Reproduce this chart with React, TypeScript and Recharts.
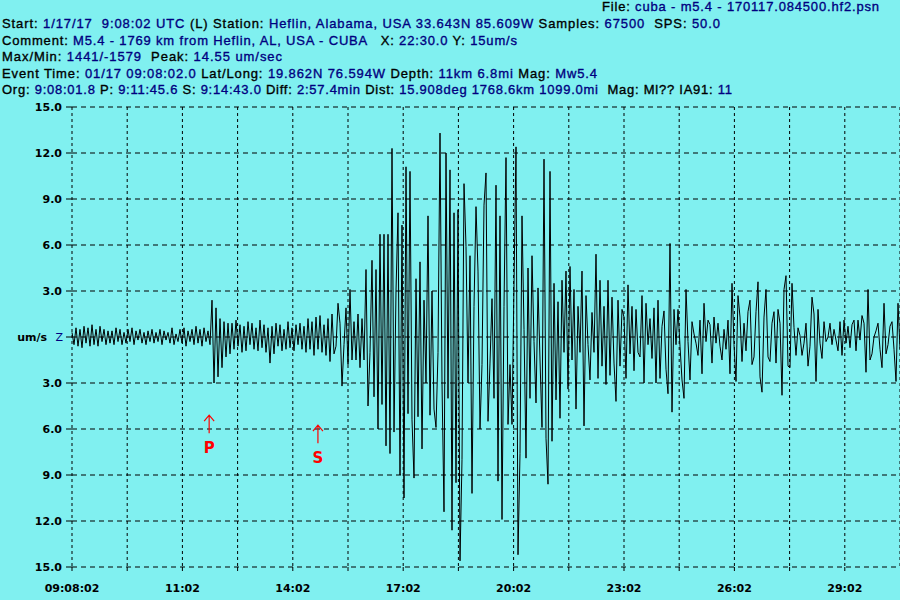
import React from 'react';
import { LineChart, Line, XAxis, YAxis, CartesianGrid, ReferenceDot } from 'recharts';

const BG = '#80F0F0';
const NAVY = '#000080';
const RED = '#FF0000';

// Record length: 22.5 minutes starting 09:08:02; one sample every 22.5/414 minutes
const RECORD_MIN = 22.5;
const SAMPLE_COUNT = 415;
const SAMPLE_STEP_MIN = RECORD_MIN / (SAMPLE_COUNT - 1);

// Vertical velocity (um/s)
const WAVE_PRE_P = [
  0.3, -0.5, 0.6, -0.6, 0.5, -0.7, 0.7, -0.4, 0.6, -0.6, 0.8, -0.5, 0.5, -0.6, 0.7, -0.3, 0.5, -0.5, 0.4, -0.4,
  0.4, -0.5, 0.6, -0.3, 0.5, -0.5, 0.3, -0.4, 0.5, -0.3, 0.6, -0.5, 0.4, -0.2, 0.5, -0.4, 0.3, -0.5, 0.4, -0.3,
  0.5, -0.4, 0.3, -0.3, 0.5, -0.5, 0.4, -0.2, 0.3, -0.4, 0.6, -0.5, 0.2, -0.3, 0.5, -0.4, 0.6, -0.6, 0.4, -0.3,
  0.5, -0.5, 0.7, -0.4, 0.5, -0.6, 0.6, -0.3, 0.4, -0.5,
];
const WAVE_P_CODA = [
  2.4, -3.0, 1.9, -2.6, 1.2, -2.0, 1.0, -1.3, 0.9, -1.1,
  0.9, -0.8, 1.1, -0.6, 0.8, -1.0, 0.7, -0.9, 1.0, -0.5, 0.9, -0.8, 0.6, -0.9, 1.1, -0.7, 0.8, -1.0, 0.6, -1.7,
  0.7, -1.1, 0.9, -0.6, 0.8, -0.9, 0.5, -0.8, 1.0, -0.7, 0.6, -0.9, 0.8, -0.5, 0.9, -0.8, 0.7, -1.0, 1.2, -0.8,
  1.0, -1.2, 1.3, -0.8, 1.4, -1.0, 0.8, -1.2, 1.2, -1.6, 1.5, -1.1, -0.6, 2.2, 0.9, -3.2, -0.5, 1.9, -1.8, 3.1,
];
const WAVE_SURFACE = [
  -1.5, 1.0, -1.5, 1.5, -2.0, 1.2, -1.5, 4.4, -4.5, -1.0, 5.0, -3.9, 4.4, -6.0, 6.7, -4.4, 6.7, -7.1, 6.7, -7.6,
  12.3, -6.2, 3.0, 8.1, -9.0, 7.3, -10.5, 11.1, -5.0, 10.8, -5.4, -9.2, 3.8, -5.2, 4.9, -7.3, 2.4, -3.0, 7.9, -5.1,
  3.0, -4.7, -5.9, -1.0, 13.3, -3.0, -11.4, 12.0, -4.0, 10.9, -12.6, 8.1, -9.5, 8.3, -14.6, -8.0, 10.0, 5.9, -3.0, 5.3,
  -10.2, 2.0, 8.5, 4.3, -6.0, -1.8, 8.6, 10.7, -5.5, -1.7, 2.5, -4.0, 9.9, -9.4, 7.9, -11.9, 2.0, 11.7, -5.7, -1.8,
  -5.7, 3.4, 12.4, -14.2, -7.6, 7.9, 0.5, -7.9, 4.5, -4.0, 5.3, -0.3, -4.3, 3.2, -1.5, -5.9, 11.6, -6.6, -9.6, 10.8,
];
const WAVE_LATE = [
  -6.8, 3.5, -4.1, 2.3, -5.3, 3.7, -1.0, 4.3, -3.4, 4.6, -1.5, 3.1, -4.7, 2.0, -1.0, 4.3, -5.8, 2.7, -0.5, -2.8,
  1.6, -1.0, 5.4, -2.7, 3.7, -1.9, 2.0, -3.1, 3.7, -2.5, 2.6, -1.7, -4.2, 2.4, -1.9, 1.8, 1.3, -2.7, 3.4, -1.1,
  2.0, -2.2, 1.8, -1.0, -1.3, 2.7, -3.0, 2.2, -0.5, 1.2, -1.4, 1.9, -3.0, 2.4, -2.7, 0.7, 1.7, -2.1, -3.7, 6.1,
  -4.9, 1.8, -0.5, 1.8, -0.6, -2.8, -4.0, 3.1, -0.3, -2.8, 1.0, 0.2, -0.4, -1.2, 1.1, -2.4, 2.2, -0.3, 1.1, 0.8,
  -1.7, 1.3, -0.4, 0.9, -0.6, -1.5, 0.5, -0.8, 1.1, -2.4, 3.5, -0.5, -2.9, 2.7, 1.3, -1.6, 0.9, -0.9, 1.65, 2.4,
  -1.8, -1.3, 1.65, 3.6, -2.6, -3.6, 1.3, 3.1, -1.3, -1.6, 0.9, 1.65, -1.7, 1.8, 0.9, -3.8, 3.1, 4.0, -1.9, -2.0,
  3.5, 0.6, -1.2, 0.6, 0.1, -1.2, -0.4, 0.9, -1.9, -0.6, 2.6, 1.5, -2.9, 1.8, -0.4, -1.4, 1.0, -0.3, 0.0, 0.9,
  -0.5, 0.5, -0.2, -0.9, 1.0, -1.2, 1.1, -0.4, 0.7, -0.7, 0.8, 1.1, -0.9, 1.1, -0.2, 1.4, 0.9, -2.3, 3.1, -1.5,
  -1.1, 0.0, 0.4, 0.9, -0.8, -2.0, 2.2, -1.1, -0.5, 0.7, 1.0, -0.8, -2.9, 2.2, -0.8,
];
const WAVE = [...WAVE_PRE_P, ...WAVE_P_CODA, ...WAVE_SURFACE, ...WAVE_LATE];

const X_TICKS = [0, 1.5, 3, 4.5, 6, 7.5, 9, 10.5, 12, 13.5, 15, 16.5, 18, 19.5, 21];
const X_LABELS = ['09:08:02', '11:02', '14:02', '17:02', '20:02', '23:02', '26:02', '29:02'];
const Y_TICKS = [15, 12, 9, 6, 3, 0, -3, -6, -9, -12, -15];

// Phase picks: minutes after 09:08:02 (P 9:11:45.6, S 9:14:43.0)
const PICK_NAMES = ['P', 'S'];
const PICK_TIMES = [3.727, 6.683];
const PICK_LEVELS = [-5.1, -5.75];

type Seg = [string, string];
const HEADER_LINES: { x: number; y: number; len: number; segs: Seg[] }[] = [
  { x: 602, y: 11, len: 277, segs: [['File: ', '#000'], ['cuba - m5.4 - 170117.084500.hf2.psn', NAVY]] },
  { x: 2, y: 28, len: 718, segs: [['Start: ', '#000'], ['1/17/17  9:08:02 UTC ', NAVY], ['(L) Station: ', '#000'], ['Heflin, Alabama, USA 33.643N 85.609W ', NAVY], ['Samples: ', '#000'], ['67500  ', NAVY], ['SPS: ', '#000'], ['50.0', NAVY]] },
  { x: 2, y: 44.5, len: 515, segs: [['Comment: ', '#000'], ['M5.4 - 1769 km from Heflin, AL, USA - CUBA   ', NAVY], ['X: ', '#000'], ['22:30.0 ', NAVY], ['Y: ', '#000'], ['15um/s', NAVY]] },
  { x: 2, y: 61, len: 280, segs: [['Max/Min: ', '#000'], ['1441/-1579  ', NAVY], ['Peak: ', '#000'], ['14.55 um/sec', NAVY]] },
  { x: 2, y: 77.5, len: 595, segs: [['Event Time: ', '#000'], ['01/17 09:08:02.0 ', NAVY], ['Lat/Long: ', '#000'], ['19.862N 76.594W ', NAVY], ['Depth: ', '#000'], ['11km 6.8mi ', NAVY], ['Mag: ', '#000'], ['Mw5.4', NAVY]] },
  { x: 2, y: 94, len: 730, segs: [['Org: ', '#000'], ['9:08:01.8 ', NAVY], ['P: ', '#000'], ['9:11:45.6 ', NAVY], ['S: ', '#000'], ['9:14:43.0 ', NAVY], ['Diff: ', '#000'], ['2:57.4min ', NAVY], ['Dist: ', '#000'], ['15.908deg 1768.6km 1099.0mi  ', NAVY], ['Mag: Ml?? ', '#000'], ['IA91: ', '#000'], ['11', NAVY]] },
];

const data = WAVE.map((v, i) => ({ t: i * SAMPLE_STEP_MIN, v }));
const picks = PICK_NAMES.map((name, i) => ({ name, t: PICK_TIMES[i], v: PICK_LEVELS[i] }));

const FONT = '"DejaVu Sans", Verdana, sans-serif';
const HFONT = '"Liberation Sans", Arial, sans-serif';

const YTick = (props: any) => {
  const { x, y, payload } = props;
  const v = payload.value as number;
  if (v === 0) {
    return (
      <g>
        <text x={x - 15} y={y + 4} textAnchor="end" fontFamily={FONT} fontSize={11} fontWeight="bold" fill="#000">um/s</text>
        <text x={x + 1} y={y + 4} textAnchor="end" fontFamily={FONT} fontSize={11} fill={NAVY}>Z</text>
      </g>
    );
  }
  return (
    <text x={x} y={y + 4} textAnchor="end" fontFamily={FONT} fontSize={11} fontWeight="bold" fill="#000">
      {Math.abs(v).toFixed(1)}
    </text>
  );
};

const XTick = (props: any) => {
  const { x, y, payload } = props;
  const idx = Math.round((payload.value as number) / 1.5);
  if (idx % 2 !== 0) return <g />;
  const label = X_LABELS[idx / 2] ?? '';
  return (
    <text x={x} y={y + 19} textAnchor="middle" fontFamily={FONT} fontSize={11} fontWeight="bold" fill="#000">
      {label}
    </text>
  );
};

const PickShape = (name: string) => (props: any) => {
  const { cx, cy } = props;
  return (
    <g>
      <path d={`M${cx - 5},${cy + 6} L${cx},${cy} L${cx + 5},${cy + 6} M${cx},${cy} L${cx},${cy + 18}`} stroke={RED} strokeWidth={1.2} fill="none" />
      <text x={cx} y={cy + 38} textAnchor="middle" fontFamily={FONT} fontSize={15} fontWeight="bold" fill={RED}>{name}</text>
    </g>
  );
};

export default function App() {
  return (
    <div style={{ position: 'absolute', left: 0, top: 0, width: 900, height: 600, background: BG, overflow: 'hidden' }}>
      <LineChart width={900} height={600} data={data} margin={{ top: 107, right: 0, bottom: 3, left: 0 }}>
        <CartesianGrid horizontal={true} vertical={false} stroke="#000" strokeDasharray="5 4" />
        <CartesianGrid horizontal={false} vertical={true} stroke="#000" strokeDasharray="3 3" />
        <XAxis
          type="number"
          dataKey="t"
          domain={[0, RECORD_MIN]}
          ticks={X_TICKS}
          interval={0}
          height={30}
          axisLine={false}
          tickLine={{ stroke: '#000' }}
          tickSize={4}
          tickMargin={2}
          tick={<XTick />}
        />
        <YAxis
          type="number"
          domain={[-15, 15]}
          ticks={Y_TICKS}
          interval={0}
          width={72}
          axisLine={false}
          tickLine={{ stroke: '#000' }}
          tickSize={6}
          tickMargin={4}
          tick={<YTick />}
        />
        <Line type="linear" dataKey="v" stroke="#000" strokeWidth={1} dot={false} isAnimationActive={false} />
        {picks.map((p) => (
          <ReferenceDot key={p.name} x={p.t} y={p.v} r={0} shape={PickShape(p.name)} />
        ))}
      </LineChart>
      <svg width={900} height={105} style={{ position: 'absolute', left: 0, top: 0, pointerEvents: 'none' }}>
        {HEADER_LINES.map((ln, i) => (
          <text key={i} x={ln.x} y={ln.y} textLength={ln.len} lengthAdjust="spacing" fontFamily={HFONT} fontSize={13} style={{ whiteSpace: 'pre' }}>
            {ln.segs.map((s, j) => (
              <tspan key={j} fill={s[1]} stroke={s[1]} strokeWidth={0.35}>{s[0]}</tspan>
            ))}
          </text>
        ))}
      </svg>
    </div>
  );
}
